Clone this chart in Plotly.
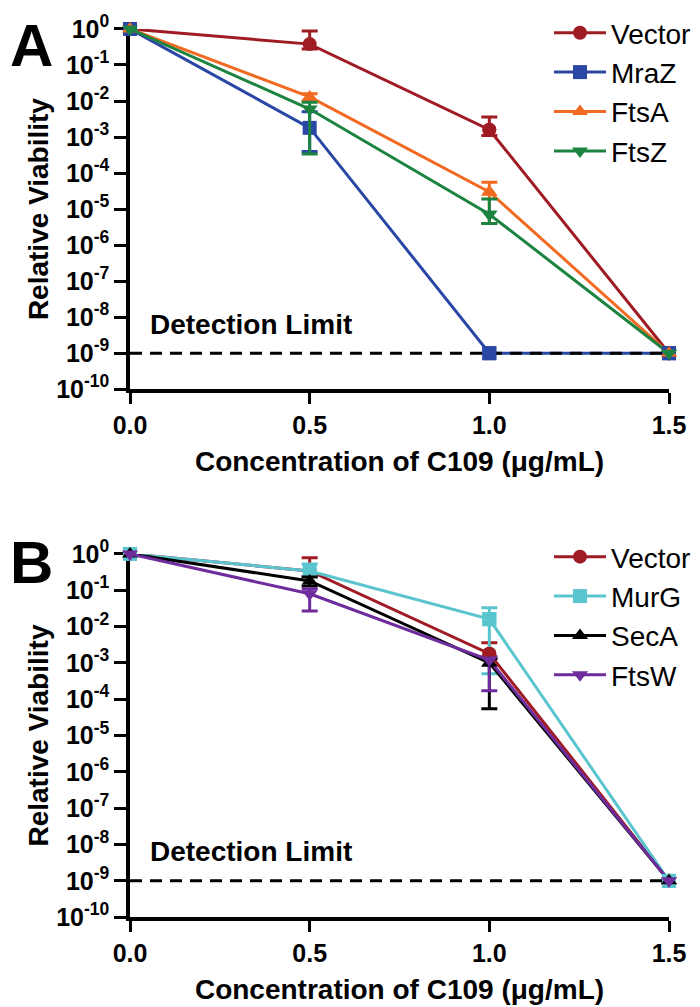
import plotly.graph_objects as go

conc = [0.0, 0.5, 1.0, 1.5]
tick_exponents = list(range(0, -11, -1))
x_ticks = [0.0, 0.5, 1.0, 1.5]
x_ticklabels = ["0.0", "0.5", "1.0", "1.5"]
detection_limit = 1e-9

# Panel A
a_names = ["Vector", "MraZ", "FtsA", "FtsZ"]
a_vector = [1.0, 0.38, 1.6e-3, 1e-9]
a_vector_up = [0.0, 0.50, 2.0e-3, 0.0]
a_vector_dn = [0.0, 0.10, 0.5e-3, 0.0]
a_mraz = [1.0, 1.8e-3, 1e-9, 1e-9]
a_mraz_up = [0.0, 3.2e-3, 0.0, 0.0]
a_mraz_dn = [0.0, 1.4e-3, 0.0, 0.0]
a_ftsa = [1.0, 1.3e-2, 3.0e-5, 1e-9]
a_ftsa_up = [0.0, 0.3e-2, 2.6e-5, 0.0]
a_ftsa_dn = [0.0, 0.3e-2, 2.6e-5, 0.0]
a_ftsz = [1.0, 6.0e-3, 7.2e-6, 1e-9]
a_ftsz_up = [0.0, 3.3e-3, 11.8e-6, 0.0]
a_ftsz_dn = [0.0, 5.66e-3, 3.2e-6, 0.0]

# Panel B
b_names = ["Vector", "MurG", "SecA", "FtsW"]
b_vector = [1.0, 0.34, 1.8e-3, 1e-9]
b_vector_up = [0.0, 0.44, 1.8e-3, 0.0]
b_vector_dn = [0.0, 0.10, 0.5e-3, 0.0]
b_murg = [1.0, 0.34, 1.6e-2, 1e-9]
b_murg_up = [0.0, 0.19, 1.7e-2, 0.0]
b_murg_dn = [0.0, 0.10, 1.55e-2, 0.0]
b_seca = [1.0, 0.18, 1.0e-3, 1e-9]
b_seca_up = [0.0, 0.05, 0.3e-3, 0.0]
b_seca_dn = [0.0, 0.05, 0.945e-3, 0.0]
b_ftsw = [1.0, 0.08, 1.2e-3, 1e-9]
b_ftsw_up = [0.0, 0.03, 0.3e-3, 0.0]
b_ftsw_dn = [0.0, 0.053, 1.03e-3, 0.0]

colors_a = ["#A01C24", "#2B47A6", "#F26A21", "#1C8440"]
colors_b = ["#A01C24", "#5BC5CF", "#000000", "#6E2C9C"]
symbols_a = ["circle", "square", "triangle-up", "triangle-down"]
symbols_b = ["circle", "square", "triangle-up", "triangle-down"]

FONT = "Liberation Sans, Arial, sans-serif"

fig = go.Figure()


def add_panel(names, ys, ups, dns, colors, symbols, xa, ya, legend):
    for name, y, up, dn, c, s in zip(names, ys, ups, dns, colors, symbols):
        fig.add_trace(go.Scatter(
            x=conc, y=y, name=name, mode="lines+markers",
            xaxis=xa, yaxis=ya, legend=legend, legendgroup=legend + name,
            line=dict(color=c, width=3),
            marker=dict(symbol=s, size=14, color=c),
            error_y=dict(type="data", array=up, arrayminus=dn, symmetric=False,
                         color=c, thickness=3, width=8),
            cliponaxis=False,
        ))
    fig.add_trace(go.Scatter(
        x=[x_ticks[0], x_ticks[-1]], y=[detection_limit, detection_limit],
        mode="lines", xaxis=xa, yaxis=ya, showlegend=False,
        line=dict(color="black", width=3, dash="12px,8px"), hoverinfo="skip",
    ))
    for name, y, c, s in zip(names, ys, colors, symbols):
        fig.add_trace(go.Scatter(
            x=conc[-2:], y=y[-2:], mode="markers", xaxis=xa, yaxis=ya,
            showlegend=False, marker=dict(symbol=s, size=14, color=c),
            cliponaxis=False, hoverinfo="skip",
        ))


add_panel(a_names, [a_vector, a_mraz, a_ftsa, a_ftsz],
          [a_vector_up, a_mraz_up, a_ftsa_up, a_ftsz_up],
          [a_vector_dn, a_mraz_dn, a_ftsa_dn, a_ftsz_dn],
          colors_a, symbols_a, "x", "y", "legend")
add_panel(b_names, [b_vector, b_murg, b_seca, b_ftsw],
          [b_vector_up, b_murg_up, b_seca_up, b_ftsw_up],
          [b_vector_dn, b_murg_dn, b_seca_dn, b_ftsw_dn],
          colors_b, symbols_b, "x2", "y2", "legend2")

W, H = 700, 1007
OFF = 8  # page body margin


def px(x):
    return (x - OFF) / W


def py(y):
    return 1 - (y - OFF) / H


xdom = [px(130), px(669)]
ydom_a = [py(388), py(27)]
ydom_b = [py(917), py(553)]

y_tickvals = [10.0 ** e for e in tick_exponents]
y_ticktext = ["10<sup>%d</sup>" % e for e in tick_exponents]

xaxis_common = dict(
    range=[0, 1.5], tickvals=x_ticks, ticktext=x_ticklabels,
    showline=True, linecolor="black", linewidth=3.5, mirror=False,
    ticks="outside", ticklen=11, tickwidth=3, tickcolor="black",
    showgrid=False, zeroline=False, layer="below traces", automargin=False,
    tickfont=dict(family=FONT, size=25, color="black", weight="bold"),
    title=dict(text="Concentration of C109 (μg/mL)", standoff=14,
               font=dict(family=FONT, size=28, color="black", weight="bold")),
)
yaxis_common = dict(
    type="log", range=[-10, 0], tickvals=y_tickvals, ticktext=y_ticktext,
    showline=True, linecolor="black", linewidth=3.5, mirror=False,
    ticks="outside", ticklen=12, tickwidth=3, tickcolor="black",
    showgrid=False, zeroline=False, layer="below traces", automargin=False,
    tickfont=dict(family=FONT, size=25, color="black", weight="bold"),
    title=dict(text="Relative Viability", standoff=0,
               font=dict(family=FONT, size=28, color="black", weight="bold")),
)

legend_common = dict(
    font=dict(family=FONT, size=28, color="black"),
    bgcolor="rgba(0,0,0,0)", xanchor="left", yanchor="top",
    itemwidth=52, tracegroupgap=0, traceorder="normal",
)

fig.update_layout(
    width=W, height=H,
    margin=dict(l=0, r=0, t=0, b=0),
    paper_bgcolor="white", plot_bgcolor="white",
    xaxis=dict(domain=xdom, anchor="y", **xaxis_common),
    yaxis=dict(domain=ydom_a, anchor="x", **yaxis_common),
    xaxis2=dict(domain=xdom, anchor="y2", **xaxis_common),
    yaxis2=dict(domain=ydom_b, anchor="x2", **yaxis_common),
    legend=dict(x=px(549), y=py(6), **legend_common),
    legend2=dict(x=px(549), y=py(531), **legend_common),
    annotations=[
        dict(text="<b>A</b>", x=0, y=1, xref="paper", yref="paper",
             xanchor="left", yanchor="top", showarrow=False,
             font=dict(family=FONT, size=60, color="black")),
        dict(text="<b>B</b>", x=0, y=py(526), xref="paper", yref="paper",
             xanchor="left", yanchor="top", showarrow=False,
             font=dict(family=FONT, size=60, color="black")),
        dict(text="<b>Detection Limit</b>", x=0.05, y=-8.2, xref="x", yref="y",
             xanchor="left", yanchor="middle", showarrow=False,
             font=dict(family=FONT, size=28, color="black")),
        dict(text="<b>Detection Limit</b>", x=0.05, y=-8.2, xref="x2", yref="y2",
             xanchor="left", yanchor="middle", showarrow=False,
             font=dict(family=FONT, size=28, color="black")),
    ],
)

fig.write_html("out.html")
